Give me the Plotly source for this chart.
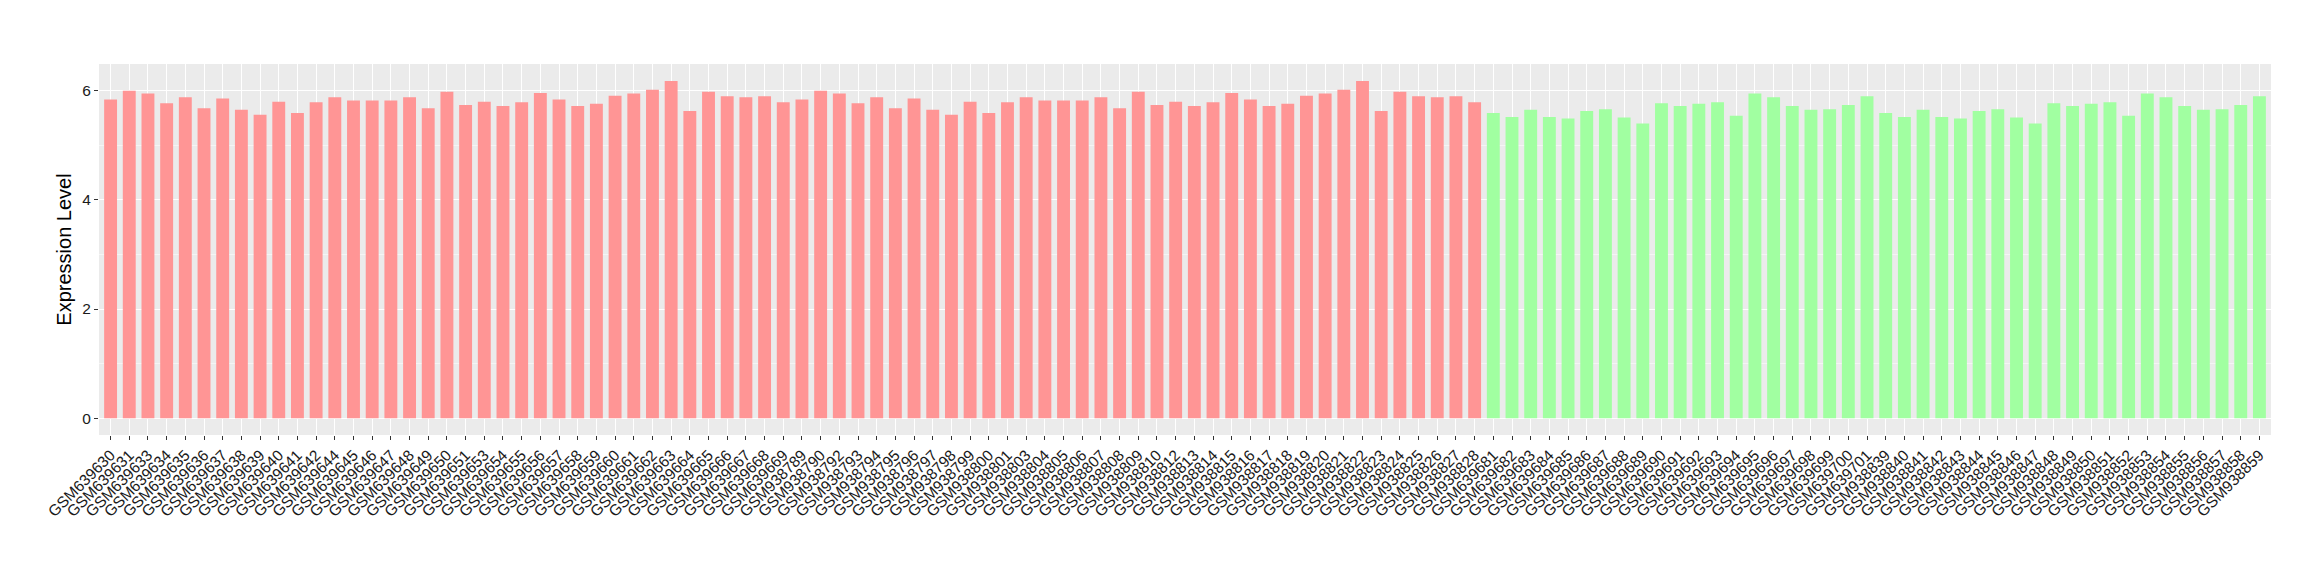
import plotly.graph_objects as go

# ---- data ----
group1_samples = (
    ["GSM6396%02d" % n for n in [30, 31, 33, 34, 35, 36, 37, 38, 39, 40, 41, 42, 44, 45, 46, 47, 48, 49,
                                 50, 51, 53, 54, 55, 56, 57, 58, 59, 60, 61, 62, 63, 64, 65, 66, 67, 68, 69]]
    + ["GSM938%03d" % n for n in [789, 790, 792, 793, 794, 795, 796, 797, 798, 799, 800, 801, 803, 804, 805,
                                  806, 807, 808, 809, 810, 812, 813, 814, 815, 816, 817, 818, 819, 820, 821,
                                  822, 823, 824, 825, 826, 827, 828]]
)
group1_values = [
    5.84, 6.00, 5.95, 5.77, 5.88, 5.68, 5.86, 5.65, 5.56, 5.80, 5.59, 5.79, 5.88, 5.82, 5.82, 5.82, 5.88, 5.68,
    5.98, 5.74, 5.80, 5.72, 5.79, 5.96, 5.84, 5.72, 5.76, 5.91, 5.95, 6.02, 6.18, 5.63, 5.98, 5.90, 5.88, 5.90, 5.79,
    5.84, 6.00, 5.95, 5.77, 5.88, 5.68, 5.86, 5.65, 5.56, 5.80, 5.59, 5.79, 5.88, 5.82, 5.82, 5.82, 5.88, 5.68,
    5.98, 5.74, 5.80, 5.72, 5.79, 5.96, 5.84, 5.72, 5.76, 5.91, 5.95, 6.02, 6.18, 5.63, 5.98, 5.90, 5.88, 5.90, 5.79,
]

group2_samples = (
    ["GSM639%03d" % n for n in range(681, 702)]
    + ["GSM938%03d" % n for n in range(839, 860)]
)
group2_values = [
    5.59, 5.52, 5.65, 5.52, 5.49, 5.63, 5.66, 5.51, 5.40, 5.77, 5.72, 5.76, 5.79, 5.54, 5.95, 5.88, 5.72, 5.65,
    5.66, 5.74, 5.90,
    5.59, 5.52, 5.65, 5.52, 5.49, 5.63, 5.66, 5.51, 5.40, 5.77, 5.72, 5.76, 5.79, 5.54, 5.95, 5.88, 5.72, 5.65,
    5.66, 5.74, 5.90,
]

y_ticks = [0, 2, 4, 6]
y_title = "Expression Level"

all_samples = group1_samples + group2_samples

fig = go.Figure()
fig.add_trace(go.Bar(x=group1_samples, y=group1_values, marker=dict(color="#FF9595", line=dict(width=0)),
                     showlegend=False))
fig.add_trace(go.Bar(x=group2_samples, y=group2_values, marker=dict(color="#A1FFA1", line=dict(width=0)),
                     showlegend=False))

font_family = "Liberation Sans, Arial, Helvetica, sans-serif"

fig.update_layout(
    width=2320, height=580,
    margin=dict(l=91, r=57, t=56, b=153, autoexpand=False),
    paper_bgcolor="white",
    plot_bgcolor="#EBEBEB",
    bargap=0.31,
    font=dict(family=font_family, color="#1A1A1A"),
    xaxis=dict(
        type="category",
        categoryorder="array", categoryarray=all_samples,
        tickmode="array", tickvals=all_samples, ticktext=all_samples,
        tickangle=-45,
        tickfont=dict(size=15.5, color="#1A1A1A", family=font_family),
        ticks="outside", ticklen=4, tickcolor="#333333", tickwidth=1,
        showgrid=True, gridcolor="white", gridwidth=1.1,
        showline=False, zeroline=False,
        range=[-0.62, len(all_samples) - 1 + 0.62],
        automargin=False,
    ),
    yaxis=dict(
        title=dict(text=y_title, font=dict(size=20, color="black", family=font_family), standoff=5),
        tickmode="array", tickvals=y_ticks, ticktext=[str(v) for v in y_ticks],
        tickfont=dict(size=15.5, color="#1A1A1A", family=font_family),
        ticks="outside", ticklen=4, tickcolor="#333333", tickwidth=1,
        showgrid=True, gridcolor="white", gridwidth=1.1,
        minor=dict(tickmode="array", tickvals=[1, 3, 5], showgrid=True, gridcolor="#F5F5F5", gridwidth=0.6,
                   ticks=""),
        showline=False, zeroline=False,
        range=[-0.309, 6.49],
        automargin=False,
    ),
)

fig.write_html("out.html")
